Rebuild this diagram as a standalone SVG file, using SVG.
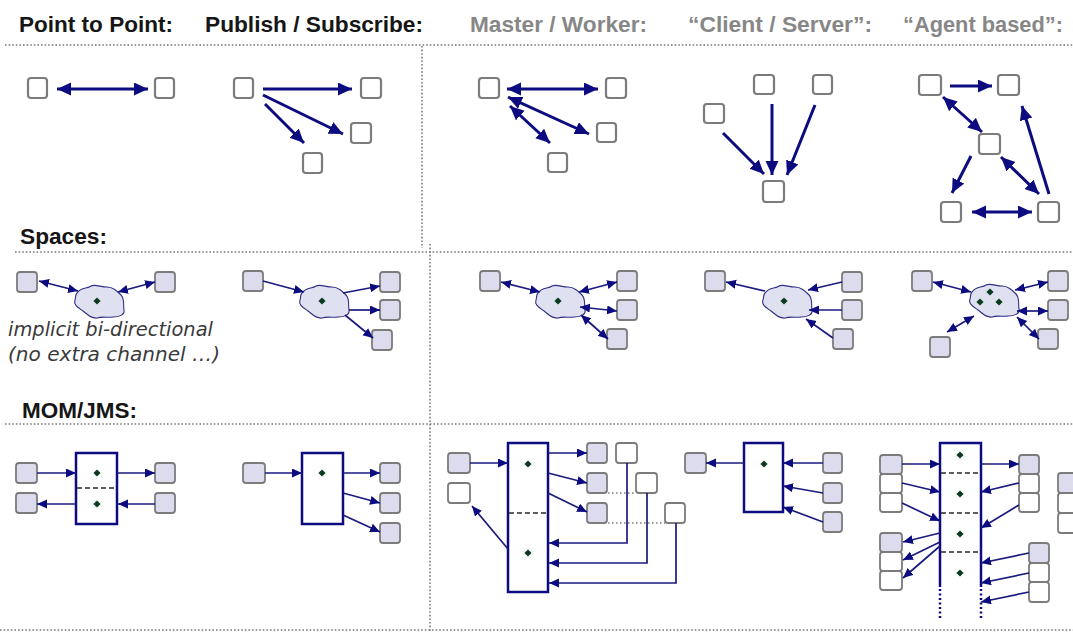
<svg xmlns="http://www.w3.org/2000/svg" xmlns:xlink="http://www.w3.org/1999/xlink" width="1073" height="632" viewBox="0 0 1073 632">
  <style>
    .hd { font-family: "Liberation Sans", Arial, sans-serif; font-weight: bold; font-size: 22px; }
    .dark { fill: #161616; }
    .grey { fill: #878787; }
    .note { font-family: "DejaVu Sans", Verdana, sans-serif; font-style: italic; font-size: 19px; fill: #3a3a3a; }
    .sep { stroke: #7a7a7a; stroke-width: 1.6; stroke-dasharray: 1.6 2; fill: none; }
    .b1 { fill: #ffffff; stroke: #7c7c7c; stroke-width: 2.2; }
    .b2 { fill: #dcdcee; stroke: #7c7c7c; stroke-width: 1.8; }
    .b3 { fill: #ffffff; stroke: #7c7c7c; stroke-width: 1.8; }
    .q { fill: #ffffff; stroke: #0c0c80; stroke-width: 2.5; }
    .qs { fill: none; stroke: #0c0c80; stroke-width: 2.5; }
    .qd { fill: none; stroke: #0c0c80; stroke-width: 2.5; stroke-dasharray: 2 2.5; }
    .cut { stroke: #2a2a2a; stroke-width: 1.5; stroke-dasharray: 5 3; }
    .fine { stroke: #7a7a7a; stroke-width: 1.5; stroke-dasharray: 1.5 2.5; }
    .big { stroke: #0c0c80; stroke-width: 3; fill: none; }
    .thin { stroke: #1a1a80; stroke-width: 1.7; fill: none; }
    .cloud { fill: #dfe0f0; stroke: #2e2e84; stroke-width: 1.1; }
  </style>
  <defs>
    <marker id="hb" markerUnits="userSpaceOnUse" markerWidth="16" markerHeight="14" refX="14" refY="6.5" orient="auto-start-reverse">
      <path d="M0,0 L14,6.5 L0,13 Z" fill="#0c0c80"/>
    </marker>
    <marker id="hs" markerUnits="userSpaceOnUse" markerWidth="12" markerHeight="10" refX="10" refY="4.5" orient="auto-start-reverse">
      <path d="M0,0 L10,4.5 L0,9 Z" fill="#0c0c80"/>
    </marker>
    <path id="blob" d="M-20,-8 C-16,-14 -10,-12 -6,-15 C-2,-17 4,-14 10,-14 C16,-14 20,-10 24,-6 C28,-2 26,4 27,9 C28,14 22,16 16,16 C10,17 6,15 0,17 C-6,18 -10,13 -14,10 C-18,7 -24,4 -22,-1 C-21,-4 -22,-6 -20,-8 Z"/>
    <path id="dot" d="M0,-3.6 L3.6,0 L0,3.6 L-3.6,0 Z" fill="#0b3b1e"/>
  </defs>

  <rect width="1073" height="632" fill="#ffffff"/>

  <!-- headings -->
  <g id="headings">
    <text class="hd dark" x="19" y="32" textLength="154" lengthAdjust="spacingAndGlyphs">Point to Point:</text>
    <text class="hd dark" x="205" y="32" textLength="218" lengthAdjust="spacingAndGlyphs">Publish / Subscribe:</text>
    <text class="hd grey" x="470" y="32" textLength="177" lengthAdjust="spacingAndGlyphs">Master / Worker:</text>
    <text class="hd grey" x="688" y="32" textLength="184" lengthAdjust="spacingAndGlyphs">“Client / Server”:</text>
    <text class="hd grey" x="903" y="32" textLength="160" lengthAdjust="spacingAndGlyphs">“Agent based”:</text>
    <text class="hd dark" x="20" y="244" textLength="87" lengthAdjust="spacingAndGlyphs">Spaces:</text>
    <text class="hd dark" x="22" y="418" textLength="115" lengthAdjust="spacingAndGlyphs">MOM/JMS:</text>
    <text class="note" x="8" y="336" textLength="205" lengthAdjust="spacingAndGlyphs">implicit bi-directional</text>
    <text class="note" x="8" y="361" textLength="212" lengthAdjust="spacingAndGlyphs">(no extra channel …)</text>
  </g>

  <!-- dotted grid -->
  <g id="grid">
    <line class="sep" x1="5" y1="45" x2="1073" y2="45"/>
    <line class="sep" x1="15" y1="252" x2="1073" y2="252"/>
    <line class="sep" x1="5" y1="424" x2="1073" y2="424"/>
    <line class="sep" x1="0" y1="630" x2="1073" y2="630"/>
    <line class="sep" x1="422" y1="46" x2="422" y2="248"/>
    <line class="sep" x1="430" y1="244" x2="430" y2="632"/>
  </g>

  <!-- row 1: plain channels -->
  <g id="p2p-a"><rect class="b1" x="28" y="78" width="19" height="20" rx="3"/></g>
  <g id="p2p-b"><rect class="b1" x="155" y="78" width="19" height="20" rx="3"/></g>
  <g id="ps-pub"><rect class="b1" x="234" y="78" width="19" height="20" rx="3"/></g>
  <g id="ps-sub1"><rect class="b1" x="361" y="78" width="20" height="20" rx="3"/></g>
  <g id="ps-sub2"><rect class="b1" x="351" y="123" width="20" height="20" rx="3"/></g>
  <g id="ps-sub3"><rect class="b1" x="303" y="153" width="19" height="20" rx="3"/></g>
  <g id="mw-master"><rect class="b1" x="479" y="78" width="20" height="20" rx="3"/></g>
  <g id="mw-w1"><rect class="b1" x="606" y="78" width="20" height="20" rx="3"/></g>
  <g id="mw-w2"><rect class="b1" x="597" y="123" width="19" height="19" rx="3"/></g>
  <g id="mw-w3"><rect class="b1" x="548" y="153" width="19" height="19" rx="3"/></g>
  <g id="cs-c1"><rect class="b1" x="754" y="75" width="20" height="19" rx="3"/></g>
  <g id="cs-c2"><rect class="b1" x="813" y="75" width="19" height="19" rx="3"/></g>
  <g id="cs-c3"><rect class="b1" x="704" y="104" width="20" height="19" rx="3"/></g>
  <g id="cs-server"><rect class="b1" x="763" y="181" width="21" height="21" rx="3"/></g>
  <g id="ag-1"><rect class="b1" x="919" y="75" width="22" height="20" rx="3"/></g>
  <g id="ag-2"><rect class="b1" x="998" y="75" width="21" height="20" rx="3"/></g>
  <g id="ag-3"><rect class="b1" x="979" y="134" width="21" height="20" rx="3"/></g>
  <g id="ag-4"><rect class="b1" x="941" y="202" width="20" height="20" rx="3"/></g>
  <g id="ag-5"><rect class="b1" x="1038" y="202" width="21" height="20" rx="3"/></g>

  <!-- row 2: spaces -->
  <g id="sp1-a"><rect class="b2" x="17" y="272" width="20" height="20" rx="3"/></g>
  <g id="sp1-space"><use href="#blob" class="cloud" transform="translate(97,301)"/><use href="#dot" x="97" y="301"/></g>
  <g id="sp1-b"><rect class="b2" x="155" y="272" width="20" height="20" rx="3"/></g>

  <g id="sp2-pub"><rect class="b2" x="243" y="271" width="20" height="20" rx="3"/></g>
  <g id="sp2-space"><use href="#blob" class="cloud" transform="translate(322,301)"/><use href="#dot" x="322" y="301"/></g>
  <g id="sp2-s1"><rect class="b2" x="380" y="272" width="20" height="20" rx="3"/></g>
  <g id="sp2-s2"><rect class="b2" x="380" y="300" width="20" height="20" rx="3"/></g>
  <g id="sp2-s3"><rect class="b2" x="372" y="330" width="20" height="20" rx="3"/></g>

  <g id="sp3-master"><rect class="b2" x="480" y="271" width="20" height="20" rx="3"/></g>
  <g id="sp3-space"><use href="#blob" class="cloud" transform="translate(558,301)"/><use href="#dot" x="558" y="301"/></g>
  <g id="sp3-w1"><rect class="b2" x="617" y="271" width="20" height="20" rx="3"/></g>
  <g id="sp3-w2"><rect class="b2" x="617" y="300" width="20" height="20" rx="3"/></g>
  <g id="sp3-w3"><rect class="b2" x="607" y="329" width="20" height="20" rx="3"/></g>

  <g id="sp4-server"><rect class="b2" x="705" y="271" width="20" height="20" rx="3"/></g>
  <g id="sp4-space"><use href="#blob" class="cloud" transform="translate(785,301)"/><use href="#dot" x="784" y="301"/></g>
  <g id="sp4-c1"><rect class="b2" x="842" y="272" width="20" height="20" rx="3"/></g>
  <g id="sp4-c2"><rect class="b2" x="842" y="300" width="20" height="20" rx="3"/></g>
  <g id="sp4-c3"><rect class="b2" x="833" y="329" width="20" height="20" rx="3"/></g>

  <g id="sp5-a1"><rect class="b2" x="912" y="271" width="20" height="20" rx="3"/></g>
  <g id="sp5-space"><use href="#blob" class="cloud" transform="translate(992,300)"/><use href="#dot" x="990" y="292"/><use href="#dot" x="980" y="302"/><use href="#dot" x="999" y="302"/></g>
  <g id="sp5-a2"><rect class="b2" x="1048" y="271" width="20" height="20" rx="3"/></g>
  <g id="sp5-a3"><rect class="b2" x="1048" y="300" width="20" height="20" rx="3"/></g>
  <g id="sp5-a4"><rect class="b2" x="1038" y="329" width="20" height="20" rx="3"/></g>
  <g id="sp5-a5"><rect class="b2" x="930" y="337" width="20" height="20" rx="3"/></g>

  <!-- row 3: message oriented middleware -->
  <g id="mq1-queue">
    <rect class="q" x="76" y="453" width="41" height="71"/>
    <line class="cut" x1="77" y1="488" x2="116" y2="488"/>
    <use href="#dot" x="97" y="473"/><use href="#dot" x="97" y="504"/>
  </g>
  <g id="mq1-a"><rect class="b2" x="16" y="463" width="21" height="20" rx="3"/></g>
  <g id="mq1-b"><rect class="b2" x="16" y="493" width="21" height="20" rx="3"/></g>
  <g id="mq1-c"><rect class="b2" x="155" y="463" width="20" height="20" rx="3"/></g>
  <g id="mq1-d"><rect class="b2" x="155" y="493" width="20" height="20" rx="3"/></g>

  <g id="mq2-topic">
    <rect class="q" x="302" y="453" width="41" height="71"/>
    <use href="#dot" x="322" y="473"/>
  </g>
  <g id="mq2-pub"><rect class="b2" x="243" y="463" width="22" height="20" rx="3"/></g>
  <g id="mq2-s1"><rect class="b2" x="380" y="463" width="20" height="20" rx="3"/></g>
  <g id="mq2-s2"><rect class="b2" x="380" y="493" width="20" height="20" rx="3"/></g>
  <g id="mq2-s3"><rect class="b2" x="380" y="523" width="20" height="20" rx="3"/></g>

  <g id="mq3-queue">
    <rect class="q" x="508" y="443" width="40" height="149"/>
    <line class="cut" x1="509" y1="513" x2="547" y2="513"/>
    <use href="#dot" x="528" y="464"/><use href="#dot" x="528" y="553"/>
  </g>
  <g id="mq3-master"><rect class="b2" x="448" y="453" width="22" height="20" rx="3"/></g>
  <g id="mq3-result"><rect class="b3" x="448" y="483" width="22" height="20" rx="3"/></g>
  <g id="mq3-w1"><rect class="b2" x="587" y="443" width="20" height="20" rx="3"/></g>
  <g id="mq3-w2"><rect class="b2" x="587" y="473" width="20" height="20" rx="3"/></g>
  <g id="mq3-w3"><rect class="b2" x="587" y="503" width="20" height="20" rx="3"/></g>
  <g id="mq3-r1"><rect class="b3" x="616" y="443" width="21" height="20" rx="3"/></g>
  <g id="mq3-r2"><rect class="b3" x="636" y="473" width="21" height="20" rx="3"/></g>
  <g id="mq3-r3"><rect class="b3" x="665" y="503" width="20" height="20" rx="3"/></g>

  <g id="mq4-queue">
    <rect class="q" x="744" y="443" width="39" height="69"/>
    <use href="#dot" x="764" y="464"/>
  </g>
  <g id="mq4-server"><rect class="b2" x="685" y="453" width="21" height="20" rx="3"/></g>
  <g id="mq4-c1"><rect class="b2" x="823" y="453" width="19" height="20" rx="3"/></g>
  <g id="mq4-c2"><rect class="b2" x="823" y="483" width="19" height="20" rx="3"/></g>
  <g id="mq4-c3"><rect class="b2" x="823" y="512" width="19" height="20" rx="3"/></g>

  <g id="mq5-queue">
    <polyline class="qs" points="940,587 940,443 981,443 981,587"/>
    <line class="qd" x1="940" y1="589" x2="940" y2="620"/>
    <line class="qd" x1="981" y1="589" x2="981" y2="620"/>
    <line class="cut" x1="941" y1="473" x2="980" y2="473"/>
    <line class="cut" x1="941" y1="513" x2="980" y2="513"/>
    <line class="cut" x1="941" y1="552" x2="980" y2="552"/>
    <use href="#dot" x="960" y="455"/><use href="#dot" x="960" y="494"/>
    <use href="#dot" x="960" y="534"/><use href="#dot" x="960" y="573"/>
  </g>
  <g id="mq5-left-in">
    <rect class="b2" x="880" y="455" width="22" height="19" rx="3"/>
    <rect class="b3" x="880" y="474" width="22" height="19" rx="3"/>
    <rect class="b3" x="880" y="493" width="22" height="19" rx="3"/>
  </g>
  <g id="mq5-left-out">
    <rect class="b2" x="880" y="533" width="22" height="19" rx="3"/>
    <rect class="b3" x="880" y="552" width="22" height="19" rx="3"/>
    <rect class="b3" x="880" y="571" width="22" height="19" rx="3"/>
  </g>
  <g id="mq5-right-in">
    <rect class="b2" x="1019" y="455" width="20" height="19" rx="3"/>
    <rect class="b3" x="1019" y="474" width="20" height="19" rx="3"/>
    <rect class="b3" x="1019" y="493" width="20" height="19" rx="3"/>
  </g>
  <g id="mq5-right-out">
    <rect class="b2" x="1029" y="543" width="20" height="20" rx="3"/>
    <rect class="b3" x="1029" y="563" width="20" height="19" rx="3"/>
    <rect class="b3" x="1029" y="582" width="20" height="20" rx="3"/>
  </g>
  <g id="mq5-edge">
    <rect class="b2" x="1058" y="473" width="22" height="20" rx="3"/>
    <rect class="b3" x="1058" y="493" width="22" height="20" rx="3"/>
    <rect class="b3" x="1058" y="513" width="22" height="20" rx="3"/>
  </g>

  <!-- connectors -->
  <g id="connectors">
    <!-- row 1 -->
    <line class="big" x1="57" y1="89" x2="148" y2="89" marker-start="url(#hb)" marker-end="url(#hb)"/>
    <line class="big" x1="263" y1="89" x2="352" y2="89" marker-end="url(#hb)"/>
    <line class="big" x1="263" y1="95" x2="343" y2="134" marker-end="url(#hb)"/>
    <line class="big" x1="265" y1="104" x2="304" y2="143" marker-end="url(#hb)"/>
    <line class="big" x1="507" y1="89" x2="598" y2="89" marker-start="url(#hb)" marker-end="url(#hb)"/>
    <line class="big" x1="508" y1="97" x2="589" y2="134" marker-start="url(#hb)" marker-end="url(#hb)"/>
    <line class="big" x1="510" y1="106" x2="550" y2="143" marker-start="url(#hb)" marker-end="url(#hb)"/>
    <line class="big" x1="723" y1="133" x2="764" y2="174" marker-end="url(#hb)"/>
    <line class="big" x1="772" y1="104" x2="772" y2="175" marker-end="url(#hb)"/>
    <line class="big" x1="815" y1="105" x2="787" y2="175" marker-end="url(#hb)"/>
    <line class="big" x1="950" y1="86" x2="992" y2="86" marker-end="url(#hb)"/>
    <line class="big" x1="943" y1="97" x2="982" y2="132" marker-start="url(#hb)" marker-end="url(#hb)"/>
    <line class="big" x1="971" y1="156" x2="952" y2="193" marker-end="url(#hb)"/>
    <line class="big" x1="1001" y1="157" x2="1039" y2="194" marker-start="url(#hb)" marker-end="url(#hb)"/>
    <line class="big" x1="1049" y1="194" x2="1022" y2="106" marker-end="url(#hb)"/>
    <line class="big" x1="972" y1="212" x2="1032" y2="212" marker-start="url(#hb)" marker-end="url(#hb)"/>

    <!-- row 2 -->
    <line class="thin" x1="39" y1="281" x2="78" y2="291" marker-start="url(#hs)" marker-end="url(#hs)"/>
    <line class="thin" x1="118" y1="292" x2="155" y2="282" marker-start="url(#hs)" marker-end="url(#hs)"/>
    <line class="thin" x1="263" y1="281" x2="304" y2="292" marker-end="url(#hs)"/>
    <line class="thin" x1="343" y1="293" x2="380" y2="286" marker-end="url(#hs)"/>
    <line class="thin" x1="349" y1="310" x2="380" y2="310" marker-end="url(#hs)"/>
    <line class="thin" x1="345" y1="315" x2="373" y2="338" marker-end="url(#hs)"/>
    <line class="thin" x1="501" y1="282" x2="540" y2="292" marker-start="url(#hs)" marker-end="url(#hs)"/>
    <line class="thin" x1="579" y1="292" x2="617" y2="282" marker-start="url(#hs)" marker-end="url(#hs)"/>
    <line class="thin" x1="580" y1="307" x2="617" y2="311" marker-start="url(#hs)" marker-end="url(#hs)"/>
    <line class="thin" x1="581" y1="315" x2="608" y2="339" marker-start="url(#hs)" marker-end="url(#hs)"/>
    <line class="thin" x1="765" y1="291" x2="726" y2="282" marker-end="url(#hs)"/>
    <line class="thin" x1="842" y1="282" x2="808" y2="290" marker-end="url(#hs)"/>
    <line class="thin" x1="842" y1="310" x2="809" y2="310" marker-end="url(#hs)"/>
    <line class="thin" x1="833" y1="338" x2="806" y2="319" marker-end="url(#hs)"/>
    <line class="thin" x1="933" y1="282" x2="971" y2="292" marker-start="url(#hs)" marker-end="url(#hs)"/>
    <line class="thin" x1="1015" y1="290" x2="1048" y2="282" marker-start="url(#hs)" marker-end="url(#hs)"/>
    <line class="thin" x1="1017" y1="311" x2="1048" y2="311" marker-start="url(#hs)" marker-end="url(#hs)"/>
    <line class="thin" x1="1017" y1="317" x2="1039" y2="339" marker-start="url(#hs)" marker-end="url(#hs)"/>
    <line class="thin" x1="947" y1="332" x2="974" y2="316" marker-start="url(#hs)" marker-end="url(#hs)"/>

    <!-- row 3 -->
    <line class="thin" x1="37" y1="473" x2="76" y2="473" marker-end="url(#hs)"/>
    <line class="thin" x1="117" y1="473" x2="155" y2="473" marker-end="url(#hs)"/>
    <line class="thin" x1="76" y1="504" x2="37" y2="504" marker-end="url(#hs)"/>
    <line class="thin" x1="155" y1="504" x2="118" y2="504" marker-end="url(#hs)"/>

    <line class="thin" x1="265" y1="473" x2="302" y2="473" marker-end="url(#hs)"/>
    <line class="thin" x1="343" y1="473" x2="380" y2="473" marker-end="url(#hs)"/>
    <line class="thin" x1="343" y1="493" x2="380" y2="503" marker-end="url(#hs)"/>
    <line class="thin" x1="343" y1="515" x2="380" y2="532" marker-end="url(#hs)"/>

    <line class="thin" x1="470" y1="463" x2="508" y2="463" marker-end="url(#hs)"/>
    <line class="thin" x1="508" y1="549" x2="472" y2="506" marker-end="url(#hs)"/>
    <line class="thin" x1="548" y1="453" x2="587" y2="453" marker-end="url(#hs)"/>
    <line class="thin" x1="548" y1="473" x2="587" y2="483" marker-end="url(#hs)"/>
    <line class="thin" x1="548" y1="493" x2="587" y2="512" marker-end="url(#hs)"/>
    <line class="fine" x1="608" y1="493" x2="636" y2="493"/>
    <line class="fine" x1="608" y1="523" x2="665" y2="523"/>
    <polyline class="thin" points="627,463 627,543 549,543" marker-end="url(#hs)"/>
    <polyline class="thin" points="647,493 647,563 549,563" marker-end="url(#hs)"/>
    <polyline class="thin" points="676,523 676,583 549,583" marker-end="url(#hs)"/>

    <line class="thin" x1="744" y1="463" x2="706" y2="463" marker-end="url(#hs)"/>
    <line class="thin" x1="823" y1="463" x2="783" y2="463" marker-end="url(#hs)"/>
    <line class="thin" x1="823" y1="493" x2="783" y2="486" marker-end="url(#hs)"/>
    <line class="thin" x1="823" y1="522" x2="783" y2="507" marker-end="url(#hs)"/>

    <line class="thin" x1="902" y1="464" x2="940" y2="464" marker-end="url(#hs)"/>
    <line class="thin" x1="902" y1="483" x2="940" y2="492" marker-end="url(#hs)"/>
    <line class="thin" x1="902" y1="503" x2="940" y2="521" marker-end="url(#hs)"/>
    <line class="thin" x1="940" y1="533" x2="903" y2="542" marker-end="url(#hs)"/>
    <line class="thin" x1="940" y1="542" x2="903" y2="560" marker-end="url(#hs)"/>
    <line class="thin" x1="940" y1="546" x2="903" y2="578" marker-end="url(#hs)"/>
    <line class="thin" x1="981" y1="464" x2="1019" y2="464" marker-end="url(#hs)"/>
    <line class="thin" x1="1019" y1="483" x2="981" y2="492" marker-end="url(#hs)"/>
    <line class="thin" x1="1019" y1="505" x2="981" y2="528" marker-end="url(#hs)"/>
    <line class="thin" x1="1029" y1="553" x2="981" y2="563" marker-end="url(#hs)"/>
    <line class="thin" x1="1029" y1="573" x2="981" y2="583" marker-end="url(#hs)"/>
    <line class="thin" x1="1029" y1="592" x2="981" y2="602" marker-end="url(#hs)"/>
  </g>
</svg>
